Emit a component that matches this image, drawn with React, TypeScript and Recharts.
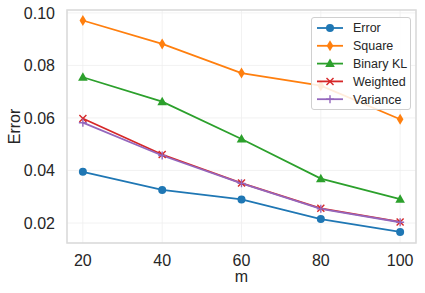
import React from 'react';
import { LineChart, Line, XAxis, YAxis, CartesianGrid, ReferenceArea } from 'recharts';

const mValues = [20, 40, 60, 80, 100];
const errorVals = [0.0395, 0.0326, 0.029, 0.0215, 0.0166];
const squareVals = [0.0971, 0.0882, 0.0771, 0.0723, 0.0595];
const binaryKLVals = [0.0755, 0.0662, 0.052, 0.0369, 0.0291];
const weightedVals = [0.0598, 0.0461, 0.0352, 0.0256, 0.0204];
const varianceVals = [0.0582, 0.0457, 0.0351, 0.0254, 0.0203];
const xTicks = [20, 40, 60, 80, 100];
const yTicks = [0.02, 0.04, 0.06, 0.08, 0.1];

const data = mValues.map((m, i) => ({
  m,
  Error: errorVals[i],
  Square: squareVals[i],
  BinaryKL: binaryKLVals[i],
  Weighted: weightedVals[i],
  Variance: varianceVals[i],
}));

const FONT = 'Arial, "Liberation Sans", sans-serif';

type Shape = 'circle' | 'diamond' | 'triangle' | 'x' | 'plus';

const series: { key: string; name: string; color: string; shape: Shape }[] = [
  { key: 'Error', name: 'Error', color: '#1f77b4', shape: 'circle' },
  { key: 'Square', name: 'Square', color: '#ff7f0e', shape: 'diamond' },
  { key: 'BinaryKL', name: 'Binary KL', color: '#2ca02c', shape: 'triangle' },
  { key: 'Weighted', name: 'Weighted', color: '#d62728', shape: 'x' },
  { key: 'Variance', name: 'Variance', color: '#9467bd', shape: 'plus' },
];

function Marker({ cx, cy, color, shape }: { cx: number; cy: number; color: string; shape: Shape }) {
  if (cx == null || cy == null) return null;
  switch (shape) {
    case 'circle':
      return <circle cx={cx} cy={cy} r={4} fill={color} />;
    case 'diamond':
      return <polygon points={`${cx},${cy - 5.5} ${cx + 3.3},${cy} ${cx},${cy + 5.5} ${cx - 3.3},${cy}`} fill={color} />;
    case 'triangle':
      return <polygon points={`${cx},${cy - 5} ${cx + 4.8},${cy + 3.5} ${cx - 4.8},${cy + 3.5}`} fill={color} />;
    case 'x':
      return (
        <g stroke={color} strokeWidth={1.4}>
          <line x1={cx - 3.5} y1={cy - 3.5} x2={cx + 3.5} y2={cy + 3.5} />
          <line x1={cx - 3.5} y1={cy + 3.5} x2={cx + 3.5} y2={cy - 3.5} />
        </g>
      );
    case 'plus':
      return (
        <g stroke={color} strokeWidth={1.4}>
          <line x1={cx - 4} y1={cy} x2={cx + 4} y2={cy} />
          <line x1={cx} y1={cy - 4} x2={cx} y2={cy + 4} />
        </g>
      );
  }
  return null;
}

function LegendBox() {
  return (
    <div
      style={{
        position: 'absolute',
        left: 311,
        top: 17,
        width: 100,
        height: 93,
        border: '1px solid #d0d0d0',
        borderRadius: 3,
        background: 'rgba(255,255,255,0.85)',
        boxSizing: 'border-box',
      }}
    >
      <svg width={98} height={91} style={{ display: 'block' }}>
        {series.map((s, i) => {
          const y = 10 + i * 17.8;
          return (
            <g key={s.key}>
              <line x1={5} x2={31} y1={y} y2={y} stroke={s.color} strokeWidth={1.8} />
              <Marker cx={18} cy={y} color={s.color} shape={s.shape} />
              <text x={41} y={y + 4.3} fontSize={12.5} fill="#262626" fontFamily={FONT}>
                {s.name}
              </text>
            </g>
          );
        })}
      </svg>
    </div>
  );
}

export default function App() {
  return (
    <div style={{ position: 'absolute', left: 0, top: 0, width: 425, height: 293, background: '#fff' }}>
      <LineChart width={425} height={293} data={data} margin={{ top: 10, right: 9, left: 0, bottom: 0 }}>
        <CartesianGrid stroke="#efefef" strokeWidth={0.8} />
        <XAxis
          dataKey="m"
          type="number"
          domain={[16, 104]}
          ticks={xTicks}
          axisLine={false}
          tickLine={false}
          height={50}
          tick={{ fontSize: 16, fill: '#262626', fontFamily: FONT }}
          tickMargin={6}
          label={{ value: 'm', position: 'insideBottom', offset: 11, fontSize: 16, fill: '#262626', fontFamily: FONT }}
        />
        <YAxis
          type="number"
          domain={[0.0124, 0.1011]}
          ticks={yTicks}
          allowDataOverflow
          axisLine={false}
          tickLine={false}
          width={67}
          tickFormatter={(v: number) => v.toFixed(2)}
          tick={{ fontSize: 16, fill: '#262626', fontFamily: FONT }}
          tickMargin={6}
          label={{ value: 'Error', angle: -90, position: 'insideLeft', offset: 14, fontSize: 16, fill: '#262626', fontFamily: FONT, style: { textAnchor: 'middle' } }}
        />
        <ReferenceArea x1={16} x2={104} y1={0.0124} y2={0.1011} fill="none" stroke="#d9d9d9" strokeWidth={1.5} ifOverflow="visible" />
        {series.map((s) => (
          <Line
            key={s.key}
            dataKey={s.key}
            name={s.name}
            stroke={s.color}
            strokeWidth={1.8}
            isAnimationActive={false}
            dot={(p: any) => <Marker key={`${s.key}-${p.index}`} cx={p.cx} cy={p.cy} color={s.color} shape={s.shape} />}
            activeDot={false}
          />
        ))}
      </LineChart>
      <LegendBox />
    </div>
  );
}
